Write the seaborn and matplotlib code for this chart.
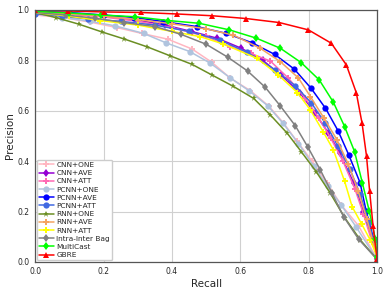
import numpy as np
import matplotlib
matplotlib.use("Agg")
import matplotlib.pyplot as plt
import seaborn as sns

sns.set_theme(style="whitegrid")
plt.rcParams["font.family"] = ["DejaVu Sans"]

# ── PR curves ────────────────────────────────────────────────────────────────
names = ["CNN+ONE", "CNN+AVE", "CNN+ATT", "PCNN+ONE", "PCNN+AVE", "PCNN+ATT",
         "RNN+ONE", "RNN+AVE", "RNN+ATT", "Intra-Inter Bag", "MultiCast", "GBRE"]

cnn_one_r = [0.0, 0.08, 0.16, 0.24, 0.312, 0.388, 0.459, 0.517, 0.571, 0.629, 0.683, 0.727, 0.765, 0.81, 0.854, 0.895, 0.946, 1.0]
cnn_one_p = [0.98, 0.97, 0.952, 0.93, 0.907, 0.884, 0.845, 0.792, 0.729, 0.68, 0.619, 0.55, 0.48, 0.40, 0.312, 0.226, 0.143, 0.01]

cnn_ave_r = [0.0, 0.1, 0.2, 0.3, 0.38, 0.459, 0.532, 0.603, 0.666, 0.72, 0.774, 0.817, 0.857, 0.89, 0.932, 0.96, 0.985, 1.0]
cnn_ave_p = [0.99, 0.985, 0.975, 0.96, 0.94, 0.914, 0.888, 0.848, 0.80, 0.74, 0.672, 0.593, 0.513, 0.434, 0.312, 0.2, 0.09, 0.02]

cnn_att_r = [0.0, 0.1, 0.2, 0.3, 0.4, 0.5, 0.57, 0.63, 0.688, 0.74, 0.79, 0.83, 0.865, 0.9, 0.935, 0.96, 0.985, 1.0]
cnn_att_p = [0.99, 0.983, 0.972, 0.955, 0.93, 0.895, 0.854, 0.828, 0.797, 0.73, 0.65, 0.57, 0.49, 0.40, 0.29, 0.19, 0.08, 0.02]

pcnn_one_r = [0.0, 0.08, 0.16, 0.234, 0.317, 0.382, 0.452, 0.512, 0.571, 0.626, 0.68, 0.725, 0.77, 0.815, 0.855, 0.895, 0.938, 1.0]
pcnn_one_p = [0.985, 0.97, 0.955, 0.937, 0.907, 0.87, 0.835, 0.789, 0.73, 0.679, 0.62, 0.55, 0.47, 0.38, 0.30, 0.226, 0.14, 0.01]

pcnn_ave_r = [0.0, 0.1, 0.2, 0.29, 0.375, 0.473, 0.559, 0.634, 0.70, 0.758, 0.807, 0.849, 0.886, 0.917, 0.95, 0.968, 0.99, 1.0]
pcnn_ave_p = [0.995, 0.99, 0.98, 0.97, 0.954, 0.934, 0.907, 0.87, 0.824, 0.765, 0.689, 0.61, 0.52, 0.425, 0.315, 0.202, 0.09, 0.02]

pcnn_att_r = [0.0, 0.08, 0.156, 0.25, 0.35, 0.45, 0.54, 0.62, 0.702, 0.76, 0.807, 0.849, 0.885, 0.92, 0.95, 0.975, 0.99, 1.0]
pcnn_att_p = [0.985, 0.975, 0.964, 0.955, 0.94, 0.915, 0.88, 0.832, 0.762, 0.7, 0.632, 0.55, 0.46, 0.37, 0.27, 0.16, 0.08, 0.02]

rnn_one_r = [0.0, 0.06, 0.127, 0.195, 0.26, 0.327, 0.393, 0.459, 0.517, 0.578, 0.639, 0.688, 0.737, 0.778, 0.822, 0.863, 0.905, 0.951, 1.0]
rnn_one_p = [0.99, 0.97, 0.944, 0.913, 0.885, 0.854, 0.819, 0.784, 0.742, 0.698, 0.649, 0.583, 0.511, 0.438, 0.358, 0.273, 0.176, 0.087, 0.01]

rnn_ave_r = [0.0, 0.1, 0.2, 0.3, 0.4, 0.5, 0.58, 0.658, 0.717, 0.77, 0.805, 0.845, 0.883, 0.915, 0.945, 0.97, 0.99, 1.0]
rnn_ave_p = [0.99, 0.985, 0.975, 0.962, 0.945, 0.925, 0.9, 0.848, 0.795, 0.73, 0.656, 0.57, 0.484, 0.39, 0.28, 0.17, 0.07, 0.02]

rnn_att_r = [0.0, 0.1, 0.19, 0.3, 0.4, 0.483, 0.55, 0.649, 0.711, 0.767, 0.805, 0.843, 0.872, 0.905, 0.927, 0.955, 0.98, 1.0]
rnn_att_p = [0.99, 0.975, 0.958, 0.94, 0.915, 0.894, 0.865, 0.808, 0.742, 0.672, 0.603, 0.515, 0.445, 0.32, 0.219, 0.15, 0.087, 0.02]

bag_r = [0.0, 0.09, 0.176, 0.261, 0.351, 0.427, 0.50, 0.564, 0.621, 0.673, 0.717, 0.761, 0.797, 0.834, 0.868, 0.902, 0.946, 1.0]
bag_p = [0.99, 0.98, 0.967, 0.95, 0.934, 0.903, 0.864, 0.812, 0.758, 0.693, 0.619, 0.54, 0.457, 0.365, 0.273, 0.18, 0.09, 0.01]

multicast_r = [0.0, 0.1, 0.193, 0.293, 0.39, 0.48, 0.568, 0.647, 0.717, 0.778, 0.831, 0.872, 0.905, 0.934, 0.957, 0.977, 0.995, 1.0]
multicast_p = [0.995, 0.988, 0.980, 0.973, 0.958, 0.947, 0.921, 0.888, 0.848, 0.791, 0.722, 0.634, 0.537, 0.438, 0.313, 0.202, 0.09, 0.02]

gbre_r = [0.0, 0.097, 0.202, 0.31, 0.416, 0.518, 0.617, 0.714, 0.799, 0.866, 0.910, 0.939, 0.956, 0.969, 0.978, 0.988, 1.0]
gbre_p = [1.0, 0.996, 0.992, 0.99, 0.984, 0.977, 0.966, 0.95, 0.921, 0.868, 0.782, 0.672, 0.55, 0.42, 0.282, 0.144, 0.01]

recalls = [cnn_one_r, cnn_ave_r, cnn_att_r, pcnn_one_r, pcnn_ave_r, pcnn_att_r,
           rnn_one_r, rnn_ave_r, rnn_att_r, bag_r, multicast_r, gbre_r]
precisions = [cnn_one_p, cnn_ave_p, cnn_att_p, pcnn_one_p, pcnn_ave_p, pcnn_att_p,
              rnn_one_p, rnn_ave_p, rnn_att_p, bag_p, multicast_p, gbre_p]

colors = ["lightpink", "darkviolet", "hotpink", "lightsteelblue", "blue", "royalblue",
          "olivedrab", "sandybrown", "yellow", "gray", "lime", "red"]
markers = ["P", "d", "P", "o", "o", "o", "*", "P", "P", "d", "d", "^"]

# ── Plot ─────────────────────────────────────────────────────────────────────
fig = plt.figure(figsize=(3.9, 2.93), dpi=100)
ax = fig.add_axes([0.09, 0.106, 0.877, 0.86])

for name, r, p, c, m in zip(names, recalls, precisions, colors, markers):
    sns.lineplot(x=r, y=p, ax=ax, color=c, marker=m, markersize=4.5,
                 markeredgewidth=0, linewidth=1.1, label=name, sort=False)

ax.set_xlim(0, 1)
ax.set_ylim(0, 1)
ax.set_xticks(np.arange(0, 1.01, 0.2))
ax.set_yticks(np.arange(0, 1.01, 0.2))
ax.tick_params(labelsize=5.5, pad=2, length=2, color="#444444")
ax.set_xlabel("Recall", fontsize=7.5, labelpad=2)
ax.set_ylabel("Precision", fontsize=7.5, labelpad=2)
ax.grid(True, color="#d0d0d0", linewidth=0.8)
for s in ax.spines.values():
    s.set_color("#555555")
    s.set_linewidth(0.9)

ax.legend(loc="lower left", fontsize=5.3, labelspacing=0.28, handlelength=2.0,
          handletextpad=0.4, borderpad=0.3, frameon=True, edgecolor="#cccccc",
          framealpha=1.0, borderaxespad=0.2)

plt.savefig("out.png", dpi=100)
